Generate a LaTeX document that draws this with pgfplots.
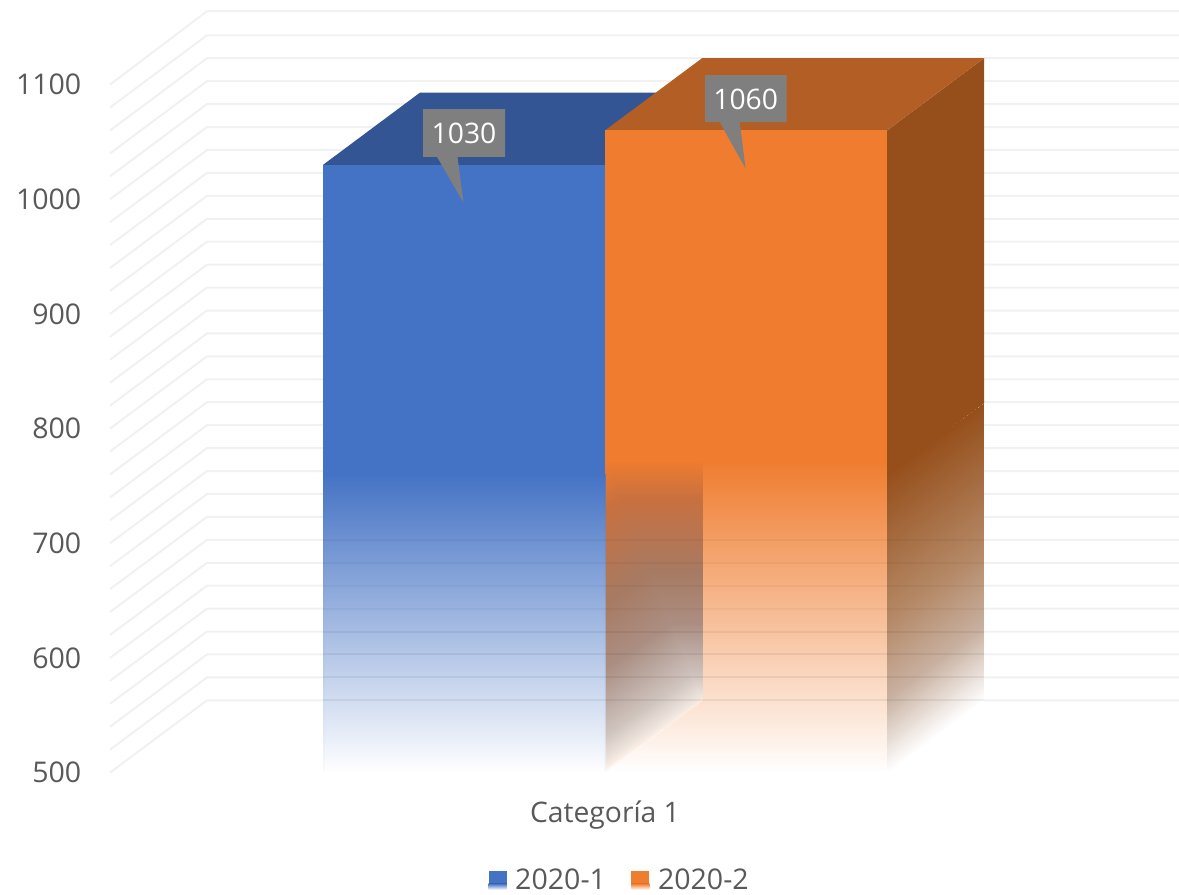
\documentclass[border=0pt]{standalone}
\usepackage{fontspec}
\setmainfont{Open Sans}
\usepackage{pgfplots}
\pgfplotsset{compat=1.18}
\definecolor{bluefront}{HTML}{4472C4}
\definecolor{bluetop}{HTML}{335593}
\definecolor{orangefront}{HTML}{EF7C2F}
\definecolor{orangetop}{HTML}{B35E25}
\definecolor{orangeside}{HTML}{964F1B}
\definecolor{gridgray}{HTML}{F1F1F1}
\definecolor{labelgray}{HTML}{595959}
\definecolor{callout}{HTML}{7F7F7F}
\pgfplotsset{
  colormap={bluefade}{color(0)=(white) color(1)=(bluefront)},
  colormap={orangefade}{color(0)=(white) color(1)=(orangefront)},
  colormap={sidefade}{rgb255(0)=(255,255,255) rgb255(25)=(200,176,160) rgb255(50)=(181,138,104) rgb255(100)=(150,79,27)},
  colormap={innerfade}{rgb255(0)=(255,255,255) rgb255(6)=(250,236,226) rgb255(12)=(238,228,222) rgb255(37)=(208,196,190) rgb255(70)=(187,169,161)
    rgb255(103)=(171,142,130) rgb255(170)=(167,122,98) rgb255(260)=(200,112,64) rgb255(310)=(239,124,47)},
  fadepatch/.style={patch, patch type=rectangle, shader=interp, point meta=explicit},
}
\begin{document}
\begin{tikzpicture}
\path[use as bounding box] (0,0) rectangle (884.25pt,670.5pt);
\begin{axis}[
  at={(82.5pt,91.05pt)}, anchor=south west,
  scale only axis, width=801.75pt, height=516pt,
  xmin=110, xmax=1179, ymin=500, ymax=1100,
  clip=false,
  axis line style={draw=none},
  tick style={draw=none},
  point meta min=0, point meta max=1,
  xtick={605}, xticklabels={Categoría 1},
  ytick={500,600,...,1100},
  yticklabel style={/pgf/number format/1000 sep={}, /pgf/number format/assume math mode=true, text=labelgray, font=\fontsize{21.4}{25}\selectfont, xshift=-18pt},
  xticklabel style={text=labelgray, font=\fontsize{21.2}{25}\selectfont, yshift=-18pt},
  legend columns=2,
  legend style={at={(axis cs:620,406)}, anchor=center, draw=none, fill=none,
    font=\fontsize{21.4}{25}\selectfont, text=labelgray,
    nodes={inner ysep=0pt},
    /tikz/every even column/.append style={column sep=17pt}},
]
% wall and side grid
\addplot[gridgray, line width=1.5pt, forget plot, unbounded coords=jump] coordinates {
  (110,500) (207,563) (1179,563) (nan,nan)
  (110,520) (207,583) (1179,583) (nan,nan)
  (110,540) (207,603) (1179,603) (nan,nan)
  (110,560) (207,623) (1179,623) (nan,nan)
  (110,580) (207,643) (1179,643) (nan,nan)
  (110,600) (207,663) (1179,663) (nan,nan)
  (110,620) (207,683) (1179,683) (nan,nan)
  (110,640) (207,703) (1179,703) (nan,nan)
  (110,660) (207,723) (1179,723) (nan,nan)
  (110,680) (207,743) (1179,743) (nan,nan)
  (110,700) (207,763) (1179,763) (nan,nan)
  (110,720) (207,783) (1179,783) (nan,nan)
  (110,740) (207,803) (1179,803) (nan,nan)
  (110,760) (207,823) (1179,823) (nan,nan)
  (110,780) (207,843) (1179,843) (nan,nan)
  (110,800) (207,863) (1179,863) (nan,nan)
  (110,820) (207,883) (1179,883) (nan,nan)
  (110,840) (207,903) (1179,903) (nan,nan)
  (110,860) (207,923) (1179,923) (nan,nan)
  (110,880) (207,943) (1179,943) (nan,nan)
  (110,900) (207,963) (1179,963) (nan,nan)
  (110,920) (207,983) (1179,983) (nan,nan)
  (110,940) (207,1003) (1179,1003) (nan,nan)
  (110,960) (207,1023) (1179,1023) (nan,nan)
  (110,980) (207,1043) (1179,1043) (nan,nan)
  (110,1000) (207,1063) (1179,1063) (nan,nan)
  (110,1020) (207,1083) (1179,1083) (nan,nan)
  (110,1040) (207,1103) (1179,1103) (nan,nan)
  (110,1060) (207,1123) (1179,1123) (nan,nan)
  (110,1080) (207,1143) (1179,1143) (nan,nan)
  (110,1100) (207,1164) (1179,1164)
};
% 2020-1
\addplot[draw=none, fill=bluetop, forget plot] coordinates {(323,1030) (420,1093) (702,1093) (605,1030)} -- cycle;
\addplot[fadepatch, colormap name=bluefade, forget plot] table[meta=c] {
x y c
323 500 0
605 500 0
605 761.5 1
323 761.5 1
};
\addplot[draw=none, fill=bluefront, forget plot] coordinates {(323,760) (323,1030) (605,1030) (605,760)} -- cycle;
% 2020-2
\addplot[fadepatch, colormap name=orangefade, forget plot] table[meta=c] {
x y c
605 500 0
887 500 0
887 773 1
605 773 1
};
\addplot[fadepatch, colormap name=innerfade, forget plot] table[meta=c] {
x y c
605 500 0
702 563 0.02
702 773 1
605 773 1
};
\addplot[fadepatch, colormap name=sidefade, forget plot] table[meta=c] {
x y c
887 500 0
983.5 563 0
983.5 822 1
887 760 1
};
\addplot[draw=none, fill=orangeside, forget plot] coordinates {(887,759) (984,822) (984,1123) (887,1060)} -- cycle;
\addplot[draw=none, fill=orangetop, forget plot] coordinates {(605,1060) (702,1123) (984,1123) (887,1060)} -- cycle;
\addplot[draw=none, fill=orangefront, forget plot] coordinates {(605,771) (605,1060) (887,1060) (887,771)} -- cycle;
% edges of the blue bar in the faded part
\addplot[fadepatch, colormap name=bluefade, forget plot, opacity=0.5] table[meta=c] {
x y c
323 502 0.05
324.5 502 0.05
324.5 760 1
323 760 1
};
\addplot[fadepatch, colormap name=bluefade, forget plot, opacity=0.7] table[meta=c] {
x y c
604 502 0.05
605.5 502 0.05
605.5 760 1
604 760 1
};
% grid seen through the faded bars
\addplot[black, opacity=0.06, line width=1.5pt, forget plot, unbounded coords=jump] coordinates {
  (323,563) (984,563) (nan,nan) (323,583) (984,583) (nan,nan)
  (323,603) (984,603) (nan,nan) (323,623) (984,623)
};
\addplot[black, opacity=0.035, line width=1.5pt, forget plot, unbounded coords=jump] coordinates {
  (323,643) (984,643) (nan,nan) (323,663) (984,663) (nan,nan)
  (323,683) (984,683) (nan,nan) (323,703) (984,703)
};
% callouts
\addplot[draw=none, fill=callout, forget plot] coordinates {(423,1037) (437,1037) (463.5,997) (457.5,1037) (505,1037) (505,1078.7) (423,1078.7)} -- cycle;
\addplot[draw=none, fill=callout, forget plot] coordinates {(705,1067.3) (719.7,1067.3) (745.5,1027) (739.7,1067.3) (786.5,1067.3) (786.5,1108.3) (705,1108.3)} -- cycle;
\node[text=white, font=\fontsize{21.2}{25}\selectfont] at (axis cs:464,1057.5) {1030};
\node[text=white, font=\fontsize{21.2}{25}\selectfont] at (axis cs:745.7,1087.5) {1060};
% legend
\addlegendimage{legend image code/.code={
  \path[draw=none] (0pt,0pt) -- (18pt,0pt);
  \fill[bluefront, draw=none] (0pt,-2.5pt) rectangle (13.5pt,7pt);
  \shade[top color=bluefront, bottom color=white, draw=none] (0pt,-7pt) rectangle (13.5pt,-2.5pt);}}
\addlegendentry{2020-1}
\addlegendimage{legend image code/.code={
  \path[draw=none] (0pt,0pt) -- (18pt,0pt);
  \fill[orangefront, draw=none] (0pt,-2.5pt) rectangle (13.5pt,7pt);
  \shade[top color=orangefront, bottom color=white, draw=none] (0pt,-7pt) rectangle (13.5pt,-2.5pt);}}
\addlegendentry{2020-2}
\end{axis}
\end{tikzpicture}
\end{document}
